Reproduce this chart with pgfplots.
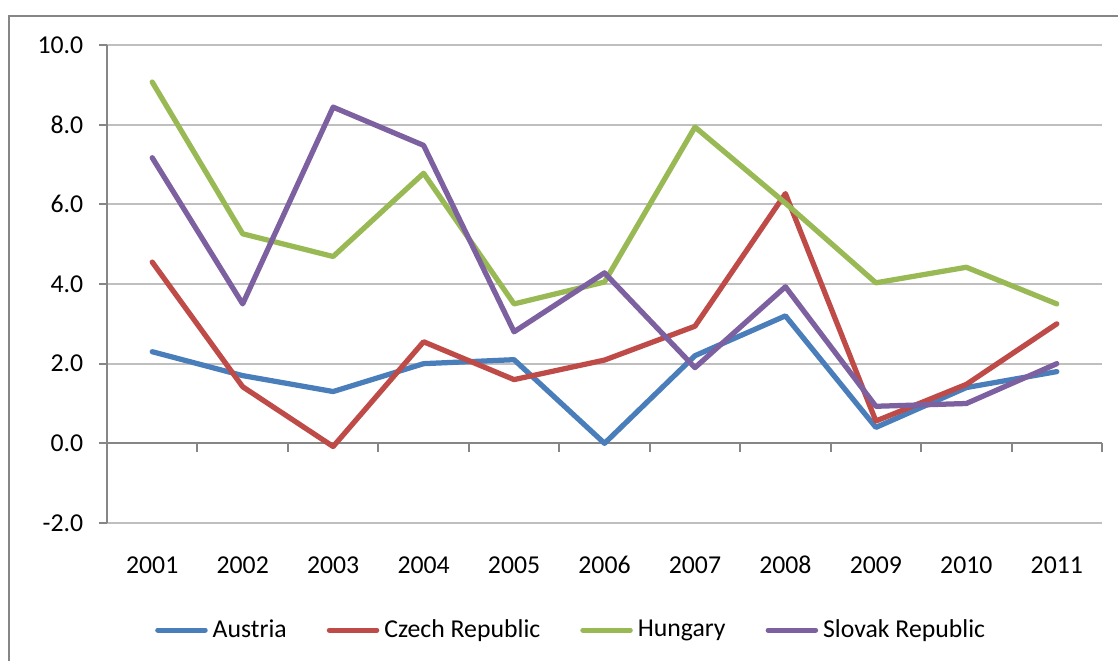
\documentclass[border=0pt]{standalone}
\usepackage{pgfplots}
\pgfplotsset{compat=1.18}
\usepackage{fontspec}
\setmainfont{Carlito}
\definecolor{cAT}{HTML}{4A7EBB}
\definecolor{cCZ}{HTML}{BE4B48}
\definecolor{cHU}{HTML}{98B954}
\definecolor{cSK}{HTML}{7D60A0}
\definecolor{axgray}{HTML}{868686}
\definecolor{grgray}{HTML}{BFBFBF}
\begin{document}
\begin{tikzpicture}[x=0.4pt,y=0.4pt]
\path[use as bounding box] (0,0) rectangle (1118,661);
\draw[axgray,line width=0.8pt] (9,0) -- (9,645) -- (1118,645);
\begin{axis}[
  at={(42.8pt,55.2pt)}, anchor=south west,
  scale only axis, width=398pt, height=191.2pt,
  xmin=-0.5, xmax=10.5, ymin=-2, ymax=10,
  xtick={0,...,10},
  xticklabels={2001,2002,2003,2004,2005,2006,2007,2008,2009,2010,2011},
  xtick style={draw=none},
  xticklabel style={yshift=-6.5pt, text height=7pt, text depth=0pt},
  ytick={-2,0,2,4,6,8,10},
  ymajorgrids, grid style={grgray, line width=0.8pt},
  axis lines*=left,
  x axis line style={draw=none},
  y axis line style={axgray, line width=0.8pt, -},
  ytick style={axgray, line width=0.8pt},
  tick align=outside, major tick length=3.2pt,
  yticklabel style={xshift=-2.8pt},
  /pgf/number format/assume math mode=true,
  yticklabel={\pgfmathprintnumber[fixed,fixed zerofill,precision=1]{\tick}},
  tick label style={font=\fontsize{10.3}{12}\selectfont, black},
  clip=false,
  legend columns=4,
  legend style={at={(0.468,-0.224)}, anchor=center, draw=none,
    font=\fontsize{10.3}{12}\selectfont,
    /tikz/every even column/.append style={column sep=14pt}},
  legend image code/.code={\draw[#1, line width=2pt, line cap=round] (0pt,0pt) -- (19pt,0pt);},
  every axis plot/.append style={line width=2.1pt, line join=round, line cap=round, mark=none},
]
\draw[axgray, line width=0.8pt] (axis cs:-0.5,0) -- (axis cs:10.5,0);
\pgfplotsinvokeforeach{0.5,1.5,2.5,3.5,4.5,5.5,6.5,7.5,8.5,9.5,10.5}{
  \draw[axgray, line width=0.8pt] (axis cs:#1,0) -- ([yshift=-3.6pt]axis cs:#1,0);
}
\addplot[cAT] coordinates {(0,2.3) (1,1.7) (2,1.3) (3,2.0) (4,2.1) (5,0.0) (6,2.2) (7,3.2) (8,0.4) (9,1.4) (10,1.8)};
\addlegendentry{Austria}
\addplot[cCZ] coordinates {(0,4.55) (1,1.42) (2,-0.08) (3,2.55) (4,1.6) (5,2.09) (6,2.94) (7,6.27) (8,0.56) (9,1.48) (10,3.0)};
\addlegendentry{Czech Republic}
\addplot[cHU] coordinates {(0,9.07) (1,5.26) (2,4.69) (3,6.78) (4,3.5) (5,4.05) (6,7.94) (7,6.03) (8,4.03) (9,4.42) (10,3.5)};
\addlegendentry{Hungary}
\addplot[cSK] coordinates {(0,7.17) (1,3.5) (2,8.44) (3,7.48) (4,2.8) (5,4.28) (6,1.9) (7,3.93) (8,0.93) (9,1.0) (10,2.0)};
\addlegendentry{Slovak Republic}
\end{axis}
\end{tikzpicture}
\end{document}
